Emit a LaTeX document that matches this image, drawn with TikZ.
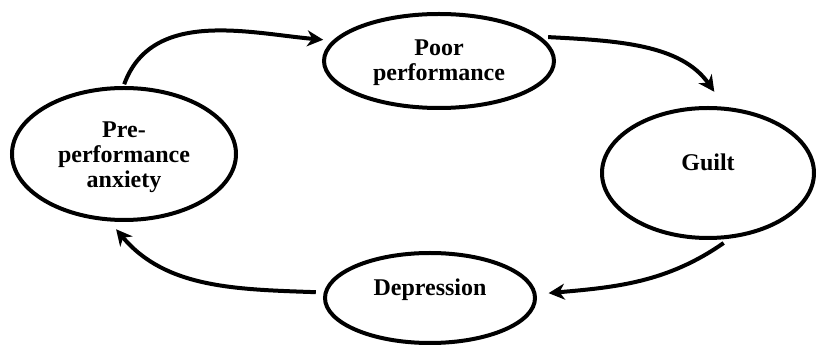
\documentclass[tikz,border=0pt]{standalone}
\usepackage{fontspec}
\setmainfont{Liberation Serif}
\usetikzlibrary{shapes.geometric,arrows.meta,positioning}

\begin{document}
\begin{tikzpicture}[x=1pt,y=1pt,
    stage/.style={draw,ellipse,line width=4pt,inner sep=0pt,outer sep=0pt},
    stagetext/.style={align=center,font=\fontsize{24}{25}\selectfont\bfseries},
    cycle/.style={line width=4pt,-{Stealth[length=16pt,width=16pt,inset=5pt]}}]
    \useasboundingbox (0,0) rectangle (817,345);

    % Ellipses
    \node [stage,minimum width=224pt,minimum height=132pt] (pre) at (124,191) {};
    \node [stage,minimum width=230pt,minimum height=94pt] (poor) at (439,284) {};
    \node [stage,minimum width=212pt,minimum height=130pt] (guilt) at (708,172) {};
    \node [stage,minimum width=210pt,minimum height=90pt] (dep) at (430,47) {};

    % Labels
    \node [stagetext] (pretext) at ([yshift=-3pt]pre.center) {Pre-\\performance\\anxiety};
    \node [stagetext] (poortext) at ([yshift=-2pt]poor.center) {Poor\\performance};
    \node [stagetext] (guilttext) at ([yshift=11pt]guilt.center) {Guilt};
    \node [stagetext] (deptext) at ([yshift=8pt]dep.center) {Depression};

    % Arrows
    \draw [cycle,shorten <=4pt,shorten >=12pt] (pre.91) to[out=70,in=175] (poor.169);
    \draw [cycle,shorten <=11pt,shorten >=21pt] (poor.14) to[out=-3,in=125] (guilt.74);
    \draw [cycle,shorten <=12pt,shorten >=14pt] (guilt.-68) to[out=-145,in=5] (dep.2);
    \draw [cycle,shorten <=10pt,shorten >=13pt] (dep.177) to[out=178,in=-50] (pre.256);

\end{tikzpicture}
\end{document}
